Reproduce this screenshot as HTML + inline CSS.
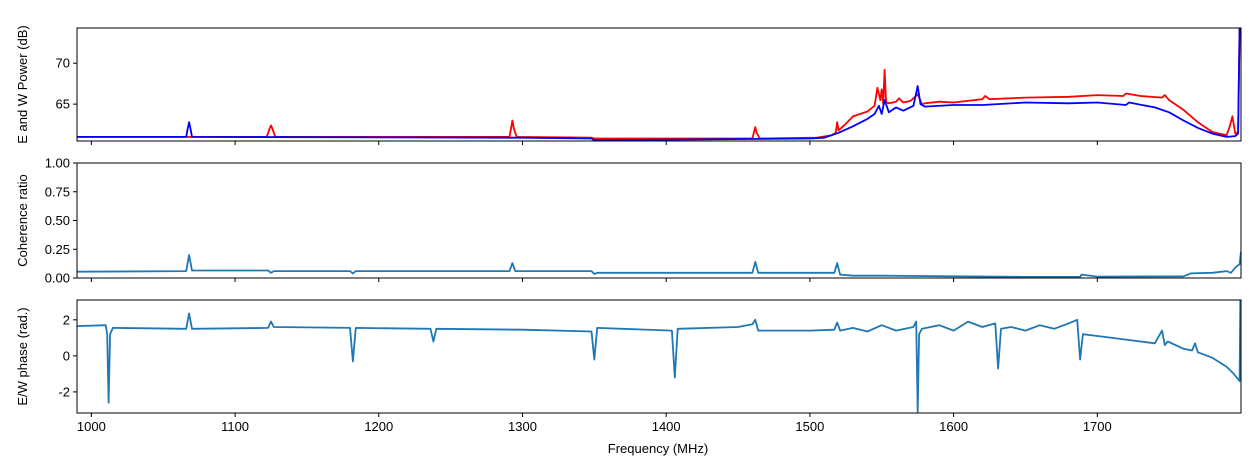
<!DOCTYPE html>
<html><head><meta charset="utf-8"><style>
body{margin:0;background:#fff;}
svg{display:block;font-family:"Liberation Sans",sans-serif;}
</style></head><body>
<svg id="chart" width="1254" height="465"></svg>
<script>
// ---- data ----
const xTicks=[1000,1100,1200,1300,1400,1500,1600,1700];
const powTicks=[65,70];
const cohTicks=[0,0.25,0.5,0.75,1];
const cohTickLabels=["0.00","0.25","0.50","0.75","1.00"];
const phTicks=[-2,0,2];
const redF=[990,1122,1124,1125,1126,1128,1291,1292,1293,1294,1296,1348,1350,1460,1461,1462,1463,1465,1505,1515,1518,1519,1520,1525,1530,1540,1545,1547,1549,1550,1551,1552,1553,1555,1560,1562,1565,1570,1575,1578,1580,1590,1600,1620,1622,1625,1650,1680,1700,1718,1720,1730,1745,1747,1750,1760,1770,1780,1790,1792,1794,1796,1798,1799];
const redV=[61.0,61.0,62.0,62.4,62.0,61.0,61.0,62.0,63.0,62.0,61.0,60.9,60.8,60.8,61.5,62.2,61.5,60.8,60.9,61.2,61.5,62.8,61.8,62.6,63.5,64.1,64.8,67.0,65.5,66.8,65.0,69.2,65.2,65.1,65.3,65.7,65.2,65.4,66.2,65.0,65.1,65.3,65.2,65.6,66.0,65.6,65.8,65.9,66.1,66.0,66.3,66.0,65.8,66.1,65.5,64.3,62.8,61.6,61.2,62.2,63.5,61.4,61.6,74.3];
const blueF=[990,1066,1067,1068,1069,1070,1300,1348,1350,1500,1510,1520,1530,1540,1545,1548,1550,1552,1555,1560,1565,1572,1575,1577,1580,1600,1620,1650,1680,1700,1720,1722,1740,1750,1760,1770,1780,1790,1796,1798,1799];
const blueV=[61.0,61.0,62.0,62.8,62.0,61.0,60.9,60.8,60.6,60.8,60.9,61.5,62.3,63.2,63.8,64.8,63.8,65.5,64.0,64.6,64.2,64.8,67.2,65.0,64.7,64.9,64.9,65.2,65.1,65.2,64.9,65.2,64.6,64.0,63.0,62.1,61.4,61.0,61.1,61.4,74.3];
const cohF=[990,1066,1068,1070,1123,1125,1127,1180,1182,1184,1291,1293,1295,1348,1350,1352,1460,1462,1464,1517,1519,1521,1530,1550,1600,1650,1688,1689,1700,1760,1765,1780,1790,1793,1796,1799,1800];
const cohV=[0.055,0.06,0.2,0.065,0.065,0.045,0.06,0.06,0.04,0.06,0.06,0.13,0.06,0.06,0.035,0.045,0.045,0.14,0.045,0.045,0.13,0.03,0.02,0.02,0.015,0.01,0.01,0.03,0.012,0.015,0.04,0.045,0.06,0.045,0.09,0.12,0.23];
const phF=[990,1010,1011,1012,1013,1015,1066,1068,1070,1123,1125,1127,1180,1182,1184,1236,1238,1240,1300,1348,1350,1352,1404,1406,1408,1450,1460,1462,1464,1500,1517,1519,1521,1530,1540,1550,1560,1572,1574,1575,1576,1578,1590,1600,1610,1620,1629,1631,1633,1640,1650,1660,1670,1680,1686,1688,1690,1700,1720,1740,1745,1747,1749,1760,1766,1768,1770,1780,1790,1795,1799,1799.5];
const phV=[1.65,1.7,1.2,-2.6,1.2,1.55,1.5,2.35,1.5,1.55,1.9,1.6,1.55,-0.3,1.55,1.5,0.8,1.5,1.45,1.35,-0.2,1.55,1.4,-1.2,1.5,1.6,1.75,2.0,1.4,1.4,1.45,1.85,1.4,1.55,1.35,1.7,1.4,1.6,1.9,-3.1,1.2,1.5,1.7,1.4,1.9,1.6,1.8,-0.7,1.5,1.6,1.4,1.7,1.5,1.8,2.0,-0.2,1.2,1.1,0.9,0.7,1.4,0.6,0.8,0.4,0.3,0.7,0.2,-0.1,-0.6,-1.0,-1.4,3.1];
// ---- layout ----
const svg=document.getElementById('chart');
const NS='http://www.w3.org/2000/svg';
const L=77,R=1241,XMIN=990,XMAX=1800;
const sx=f=>L+(f-XMIN)/(XMAX-XMIN)*(R-L);
function el(t,a,p){const e=document.createElementNS(NS,t);for(const k in a)e.setAttribute(k,a[k]);(p||svg).appendChild(e);return e;}
function panel(name,top,bot,ymin,ymax,ticks,labels,title,showX){
  const g=el('g',{});
  
  
  const sy=v=>bot-(v-ymin)/(ymax-ymin)*(bot-top);
  ticks.forEach((t,i)=>{const y=sy(t);
    el('line',{x1:L-4,x2:L,y1:y,y2:y,stroke:'#000'},g);
    const tx=el('text',{x:L-7,y:y+4.5,'text-anchor':'end','font-size':13},g);tx.textContent=labels[i];
    });
  xTicks.forEach(t=>{const x=sx(t);el('line',{x1:x,x2:x,y1:bot,y2:bot+4,stroke:'#000'},g);
    if(showX){const tx=el('text',{x:x,y:bot+18,'text-anchor':'middle','font-size':13},g);tx.textContent=t;
      }});
  const yt=el('text',{x:0,y:0,'text-anchor':'middle','font-size':13,transform:`translate(27,${(top+bot)/2}) rotate(-90)`},g);
  yt.textContent=title;
  
  
  const cid='c'+name;const cp=el('clipPath',{id:cid},g);el('rect',{x:L,y:top,width:R-L,height:bot-top},cp);
  return {g,sy,cid,top,bot};
}
function line(p,F,V,color,name){
  const d=F.map((f,i)=>(i?'L':'M')+sx(f).toFixed(1)+','+p.sy(V[i]).toFixed(1)).join('');
  const pa=el('path',{d,fill:'none',stroke:color,'stroke-width':1.8,'stroke-linejoin':'round','clip-path':`url(#${p.cid})`},p.g);
  
  
}
function frame(p){el('rect',{x:L,y:p.top,width:R-L,height:p.bot-p.top,fill:'none',stroke:'#000','stroke-width':1},p.g);}
const p1=panel('power-panel',28,141,60.5,74.3,powTicks,powTicks.map(String),'E and W Power (dB)',false);
line(p1,redF,redV,'#ff0000','e-power-line');line(p1,blueF,blueV,'#0000ff','w-power-line');frame(p1);
const p2=panel('coherence-panel',163,278,0,1,cohTicks,cohTickLabels,'Coherence ratio',false);
line(p2,cohF,cohV,'#1f77b4','coherence-line');frame(p2);
const p3=panel('phase-panel',300,413,-3.17,3.1,phTicks,phTicks.map(String),'E/W phase (rad.)',true);
line(p3,phF,phV,'#1f77b4','phase-line');frame(p3);
const xt=el('text',{x:(L+R)/2-1,y:453,'text-anchor':'middle','font-size':13});
xt.textContent='Frequency (MHz)';


</script>
</body></html>
